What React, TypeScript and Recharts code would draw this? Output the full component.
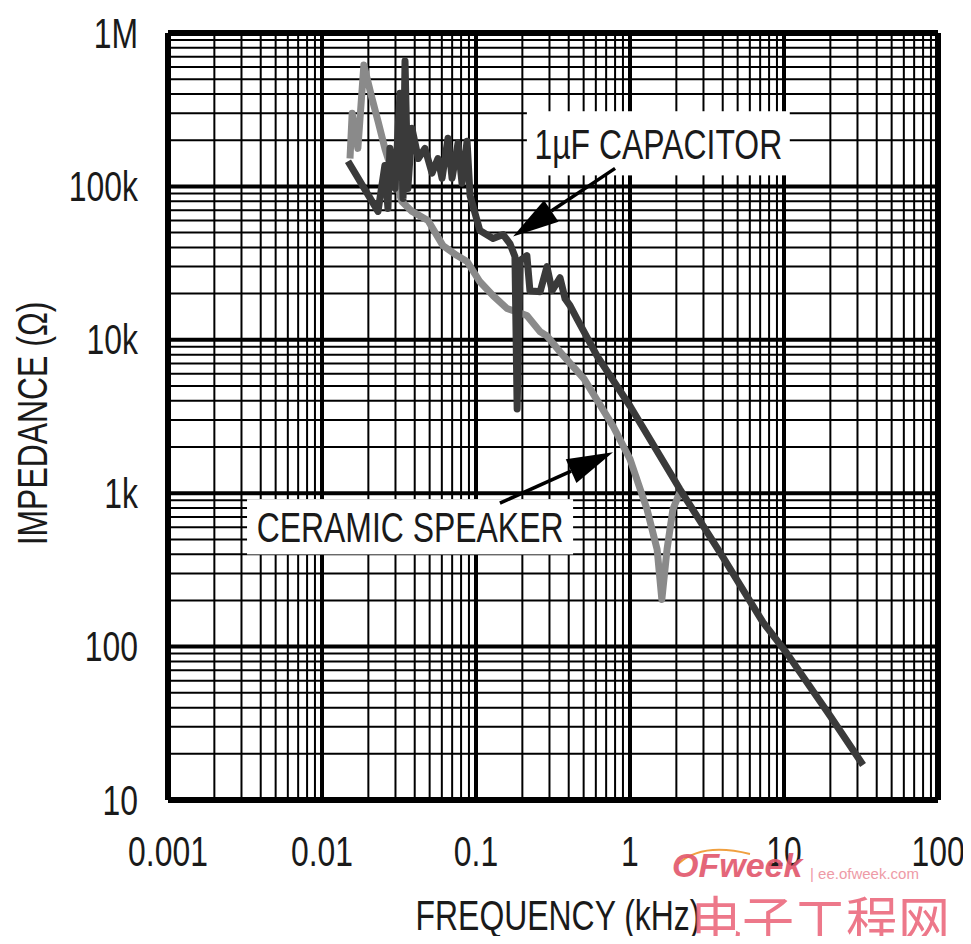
import React from 'react';
import {
  LineChart,
  Line,
  XAxis,
  YAxis,
  ReferenceLine,
} from 'recharts';

// condensed sans: Liberation Sans squeezed horizontally
const FONT = "'Liberation Sans', Arial, sans-serif";
const FS = 42;
const SQUEEZE = 0.76;
const INK = '#1a1a1a';

// axis ticks
const xTicks = [0.001, 0.01, 0.1, 1, 10, 100];
const xTickLabels = ['0.001', '0.01', '0.1', '1', '10', '100'];
const yTicks = [10, 100, 1000, 10000, 100000, 1000000];
const yTickLabels = ['10', '100', '1k', '10k', '100k', '1M'];
const minorSteps = [2, 3, 4, 5, 6, 7, 8, 9];

// 1µF capacitor (kHz, ohms)
const capFreq = [
  0.01475, 0.0231, 0.0256, 0.0268, 0.0276, 0.0298, 0.0321, 0.0336, 0.0346, 0.0361,
  0.0384, 0.0422, 0.0466, 0.0518, 0.0566, 0.0602, 0.0658, 0.0699, 0.0764, 0.0811,
  0.0875, 0.0915, 0.106, 0.129, 0.15, 0.166, 0.179, 0.185, 0.193, 0.214,
  0.224, 0.261, 0.289, 0.312, 0.351, 0.379, 0.408, 0.453, 0.611, 1.0,
  2.11, 3.84, 7.31, 10.4, 19.9, 32.6,
];
const capImp = [
  146000, 68700, 137000, 71800, 177000, 97000, 405000, 83500, 656000, 97000,
  239000, 152000, 177000, 122000, 152000, 113000, 206000, 113000, 191000, 105000,
  197000, 87300, 51500, 45700, 48500, 42400, 34900, 3540, 32800, 35400,
  20900, 20600, 30000, 20900, 25400, 18500, 16700, 13700, 7860, 3700,
  1060, 411, 144, 91, 35.4, 16.9,
];

// ceramic speaker
const spkFreq = [
  0.0152, 0.0157, 0.0171, 0.0187, 0.0211, 0.0231, 0.0256, 0.0285, 0.0312, 0.033,
  0.0384, 0.0488, 0.061, 0.0753, 0.0875, 0.106, 0.129, 0.159, 0.214, 0.261,
  0.289, 0.351, 0.503, 0.776, 1.0, 1.29, 1.5, 1.61, 1.74, 1.9, 2.11,
];
const spkImp = [
  152000, 300000, 177000, 618000, 376000, 266000, 177000, 125000, 97000, 79800,
  68700, 60000, 41100, 35400, 32400, 23900, 19400, 16000, 14400, 11300,
  10600, 8350, 5560, 2740, 1670, 785, 431, 203, 431, 785, 1020,
];

const capacitor = capFreq.map((f, i) => ({ f, z: capImp[i] }));
const speaker = spkFreq.map((f, i) => ({ f, z: spkImp[i] }));

const xMinor = xTicks.slice(0, -1).flatMap((d) => minorSteps.map((m) => d * m));
const yMinor = yTicks.slice(0, -1).flatMap((d) => minorSteps.map((m) => d * m));

function NarrowText({ x, y, anchor = 'middle', rotate = 0, children }: any) {
  return (
    <text
      transform={`translate(${x} ${y}) rotate(${rotate}) scale(${SQUEEZE} 1)`}
      textAnchor={anchor}
      dominantBaseline="central"
      fontSize={FS}
      fontFamily={FONT}
      fill={INK}
    >
      {children}
    </text>
  );
}

function Arrow(props: any) {
  const { x1, y1, x2, y2 } = props;
  const ang = Math.atan2(y2 - y1, x2 - x1);
  const len = 46;
  const half = 13;
  const bx = x2 - len * Math.cos(ang);
  const by = y2 - len * Math.sin(ang);
  const px = -Math.sin(ang) * half;
  const py = Math.cos(ang) * half;
  return (
    <g>
      <line x1={x1} y1={y1} x2={bx} y2={by} stroke="#000" strokeWidth={3.5} />
      <polygon points={`${x2},${y2} ${bx + px},${by + py} ${bx - px},${by - py}`} fill="#000" />
    </g>
  );
}

// white label box spanning the two corner points of a segment
const labelBox = (text: string) =>
  function LabelBox(props: any) {
    const { x1, y1, x2, y2 } = props;
    const left = Math.min(x1, x2);
    const top = Math.min(y1, y2);
    return (
      <g>
        <rect x={left} y={top} width={Math.abs(x2 - x1)} height={Math.abs(y2 - y1)} fill="#fff" />
        <NarrowText x={(x1 + x2) / 2} y={(y1 + y2) / 2 + 1}>
          {text}
        </NarrowText>
      </g>
    );
  };

export default function App() {
  return (
    <div style={{ position: 'relative', width: 963, height: 928, overflow: 'hidden', background: '#fff' }}>
      <LineChart width={963} height={928} margin={{ top: 25, right: 33, bottom: 76, left: 0 }}>
        <XAxis
          dataKey="f"
          type="number"
          scale="log"
          domain={[0.001, 100]}
          ticks={xTicks}
          allowDataOverflow
          tick={(p: any) => (
            <NarrowText x={p.x} y={p.y}>
              {xTickLabels[xTicks.indexOf(p.payload.value)]}
            </NarrowText>
          )}
          tickLine={false}
          axisLine={false}
          tickSize={0}
          tickMargin={51}
          height={60}
          label={{
            content: ({ viewBox }: any) => (
              <NarrowText x={viewBox.x + viewBox.width / 2 + 5} y={viewBox.y + 115}>
                FREQUENCY (kHz)
              </NarrowText>
            ),
          }}
        />
        <YAxis
          dataKey="z"
          type="number"
          scale="log"
          domain={[10, 1000000]}
          ticks={yTicks}
          allowDataOverflow
          tick={(p: any) => (
            <NarrowText x={p.x} y={p.y} anchor="end">
              {yTickLabels[yTicks.indexOf(p.payload.value)]}
            </NarrowText>
          )}
          tickLine={false}
          axisLine={false}
          tickSize={0}
          tickMargin={30}
          width={160}
          label={{
            content: ({ viewBox }: any) => (
              <NarrowText x={24} y={viewBox.y + viewBox.height / 2 + 7} rotate={-90}>
                IMPEDANCE (Ω)
              </NarrowText>
            ),
          }}
        />

        {xMinor.map((v) => (
          <ReferenceLine key={`xm${v}`} x={v} stroke="#000" strokeWidth={2} />
        ))}
        {yMinor.map((v) => (
          <ReferenceLine key={`ym${v}`} y={v} stroke="#000" strokeWidth={2} />
        ))}
        {xTicks.map((v, i) => (
          <ReferenceLine
            key={`xM${v}`}
            x={v}
            stroke="#000"
            strokeWidth={i === 0 || i === xTicks.length - 1 ? 6 : 4}
          />
        ))}
        {yTicks.map((v, i) => (
          <ReferenceLine
            key={`yM${v}`}
            y={v}
            stroke="#000"
            strokeWidth={i === 0 || i === yTicks.length - 1 ? 6 : 4}
          />
        ))}

        <ReferenceLine
          segment={[
            { x: 0.214, y: 309000 },
            { x: 10.9, y: 118000 },
          ]}
          shape={labelBox('1µF CAPACITOR')}
        />
        <ReferenceLine
          segment={[
            { x: 0.00326, y: 914 },
            { x: 0.427, y: 399 },
          ]}
          shape={labelBox('CERAMIC SPEAKER')}
        />

        <ReferenceLine
          segment={[
            { x: 0.8, y: 131000 },
            { x: 0.174, y: 47100 },
          ]}
          shape={Arrow}
        />
        <ReferenceLine
          segment={[
            { x: 0.143, y: 861 },
            { x: 0.776, y: 1850 },
          ]}
          shape={Arrow}
        />

        <Line
          data={speaker}
          dataKey="z"
          type="linear"
          stroke="#8a8a8a"
          strokeWidth={7}
          strokeLinejoin="round"
          dot={false}
          isAnimationActive={false}
        />
        <Line
          data={capacitor}
          dataKey="z"
          type="linear"
          stroke="#3a3a3a"
          strokeWidth={7}
          strokeLinejoin="round"
          dot={false}
          isAnimationActive={false}
        />
      </LineChart>

      {/* watermark */}
      <svg
        width={90}
        height={30}
        style={{ position: 'absolute', left: 664, top: 830 }}
      >
        <path d="M 6 26 Q 30 4 78 16" stroke="#f0a040" strokeWidth={2} fill="none" />
      </svg>
      <div
        style={{
          position: 'absolute',
          left: 664,
          top: 840,
          fontFamily: "'Liberation Sans', Arial, sans-serif",
          fontWeight: 'bold',
          fontStyle: 'italic',
          fontSize: 34,
          color: '#e2566b',
          opacity: 0.9,
          lineHeight: 1,
        }}
      >
        OFweek
      </div>
      <div
        style={{
          position: 'absolute',
          left: 802,
          top: 858,
          fontFamily: "'Liberation Sans', Arial, sans-serif",
          fontSize: 15,
          color: '#ee9aa6',
          lineHeight: 1,
        }}
      >
        | ee.ofweek.com
      </div>
      <div
        style={{
          position: 'absolute',
          left: 682,
          top: 884,
          fontFamily: "'Noto Sans CJK SC', sans-serif",
          fontSize: 52,
          color: '#ec6a7e',
          opacity: 0.9,
          lineHeight: 1,
        }}
      >
        电子工程网
      </div>
    </div>
  );
}
